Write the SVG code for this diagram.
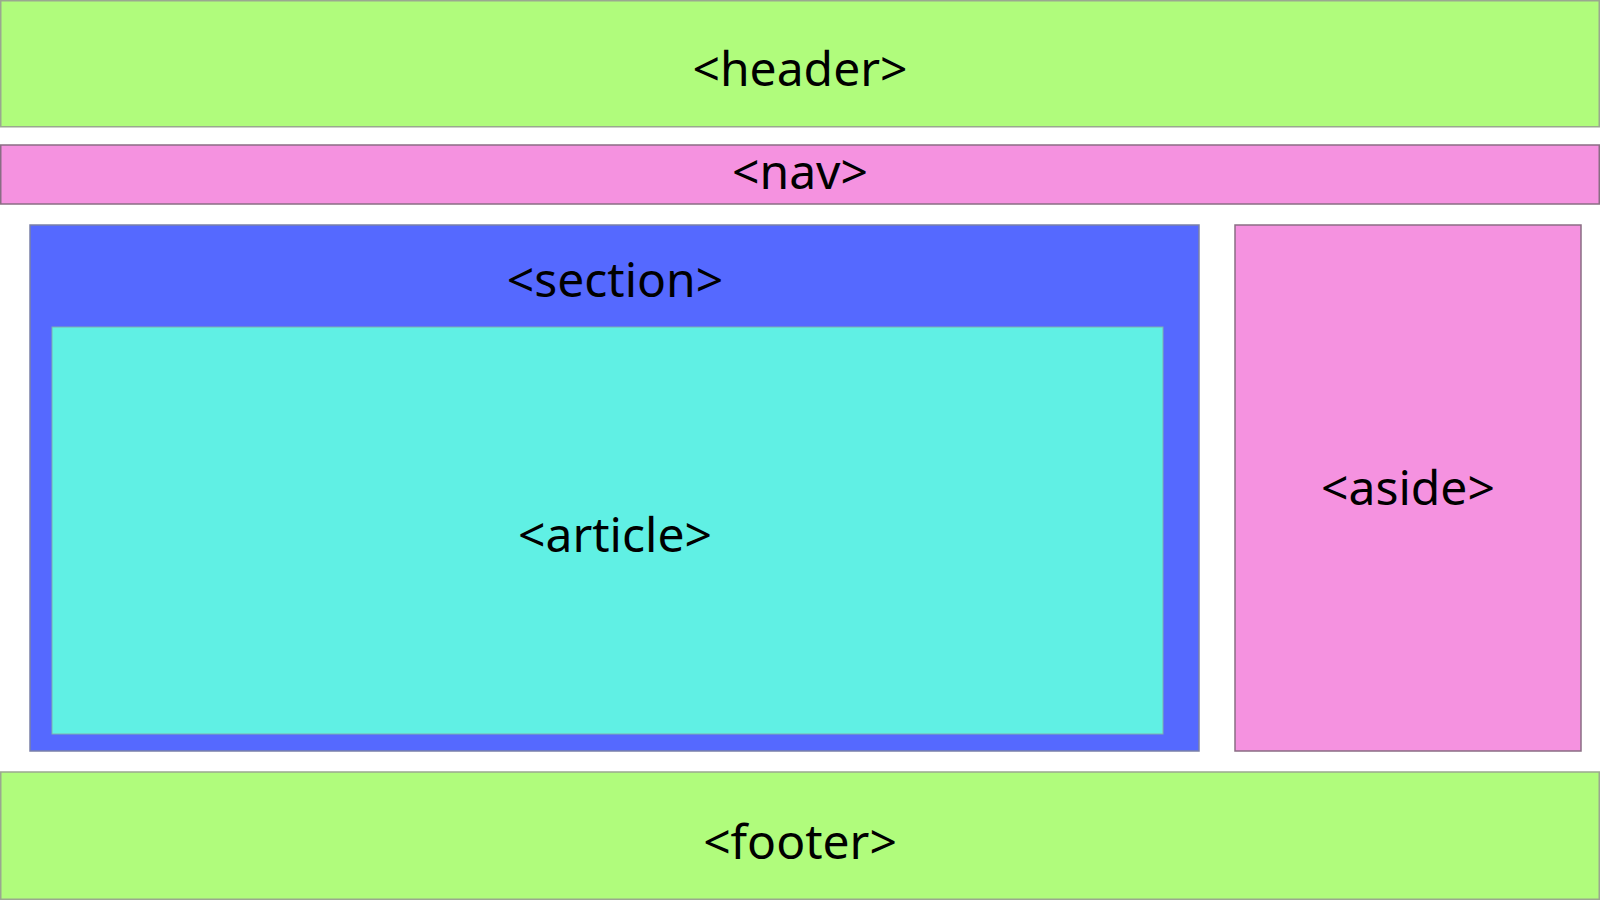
<svg xmlns="http://www.w3.org/2000/svg" width="1600" height="900" viewBox="0 0 1600 900">
  <style>
    .lbl { font-family: "Noto Sans", "Open Sans", "DejaVu Sans", sans-serif; font-size: 48px; fill: #000; text-anchor: middle; }
    .green { fill: #b0fc7c; stroke: #9aa88f; stroke-width: 1.5; }
    .pink { fill: #f592e0; stroke: #8a6d84; stroke-width: 1.5; }
    .blue { fill: #5569ff; stroke: #7a80a8; stroke-width: 1.5; }
    .cyan { fill: #60f0e4; stroke: #7fb0b0; stroke-width: 1; }
  </style>
  <rect x="0" y="0" width="1600" height="900" fill="#ffffff"/>
  <g id="header">
    <rect class="green" x="0.75" y="0.75" width="1598.5" height="126"/>
    <text class="lbl" x="800" y="86">&lt;header&gt;</text>
  </g>
  <g id="nav">
    <rect class="pink" x="0.75" y="145" width="1598.5" height="59"/>
    <text class="lbl" x="800" y="189">&lt;nav&gt;</text>
  </g>
  <g id="section">
    <rect class="blue" x="30" y="225" width="1169" height="526"/>
    <text class="lbl" x="615" y="297">&lt;section&gt;</text>
  </g>
  <g id="article">
    <rect class="cyan" x="52" y="327" width="1111" height="407"/>
    <text class="lbl" x="615" y="552">&lt;article&gt;</text>
  </g>
  <g id="aside">
    <rect class="pink" x="1235" y="225" width="346" height="526"/>
    <text class="lbl" x="1408" y="505">&lt;aside&gt;</text>
  </g>
  <g id="footer">
    <rect class="green" x="0.75" y="772" width="1598.5" height="127.25"/>
    <text class="lbl" x="800" y="859">&lt;footer&gt;</text>
  </g>
</svg>
